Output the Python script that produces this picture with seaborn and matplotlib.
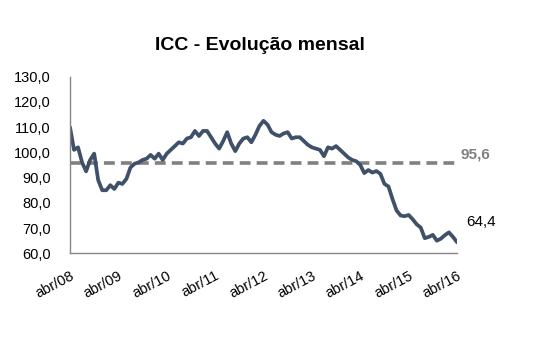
import matplotlib
matplotlib.use("Agg")
import matplotlib.pyplot as plt
import seaborn as sns
import pandas as pd
import numpy as np

# Monthly consumer confidence index, abr/2008 .. abr/2016
icc_values = [
    110.0, 101.0, 102.0, 96.0, 92.5, 97.0, 99.5, 89.0, 85.0, 85.0, 87.0, 85.5,
    88.0, 87.5, 89.5, 94.0, 95.5, 96.0, 97.0, 97.5, 99.0, 97.5, 99.5, 97.0,
    99.5, 101.0, 102.5, 104.0, 103.5, 105.5, 106.0, 108.5, 106.5, 108.5, 108.5, 106.0,
    103.5, 101.5, 104.5, 108.0, 103.5, 100.5, 103.5, 105.5, 106.0, 104.0, 107.0, 110.5,
    112.5, 111.0, 108.0, 107.0, 106.5, 107.5, 108.0, 105.5, 106.0, 106.0, 104.5, 103.0,
    102.0, 101.5, 101.0, 98.5, 102.0, 101.5, 102.5, 101.0, 99.5, 98.0, 97.0, 96.5,
    95.0, 91.8, 93.0, 92.0, 92.6, 91.5, 87.5, 86.5, 81.5, 77.0, 75.0, 74.7,
    75.2, 73.5, 71.5, 70.2, 66.0, 66.5, 67.3, 65.0, 65.8, 67.2, 68.3, 66.5,
    64.4,
]
historical_mean = 95.6
tick_labels = ["abr/08", "abr/09", "abr/10", "abr/11", "abr/12",
               "abr/13", "abr/14", "abr/15", "abr/16"]
y_ticks = [60, 70, 80, 90, 100, 110, 120, 130]

df = pd.DataFrame({"mes": np.arange(len(icc_values)), "icc": icc_values})

sns.set_theme(style="white")
plt.rcParams["font.family"] = ["Liberation Sans", "DejaVu Sans"]

fig = plt.figure(figsize=(5.4, 3.47), dpi=100)
ax = fig.add_axes([0.1296, 0.270, 0.7167, 0.509])

line_color = "#3F5069"
mean_color = "#808080"

ax.axhline(historical_mean, color=mean_color, lw=2.6, dashes=(3.0, 1.7),
           solid_capstyle="butt", zorder=1)
sns.lineplot(data=df, x="mes", y="icc", ax=ax, color=line_color, lw=2.7,
             zorder=2)

n = len(icc_values) - 1
ax.set_xlim(0, n)
ax.set_ylim(60, 130)
ax.set_xticks(np.arange(0, n + 1, 12))
ax.set_xticklabels(tick_labels, rotation=28, ha="right", va="top",
                   rotation_mode="anchor", fontsize=10.5, color="#000000")
ax.set_yticks(y_ticks)
ax.set_yticklabels([f"{v:.1f}".replace(".", ",") for v in y_ticks],
                   fontsize=10.5, color="#000000")
ax.tick_params(axis="y", length=0, pad=14)
ax.tick_params(axis="x", length=0, pad=11)
ax.set_xlabel("")
ax.set_ylabel("")

for side in ("top", "right"):
    ax.spines[side].set_visible(False)
for side in ("left", "bottom"):
    ax.spines[side].set_color("#868686")
    ax.spines[side].set_linewidth(1.0)

ax.text(n + 0.8, historical_mean + 0.8, f"{historical_mean:.1f}".replace(".", ","),
        color=mean_color, fontsize=11, fontweight="bold", ha="left", va="bottom")
ax.text(n + 2.3, 72.5, f"{icc_values[-1]:.1f}".replace(".", ","),
        color="#000000", fontsize=11, ha="left", va="center")

fig.text(0.481, 0.87, "ICC - Evolução mensal", ha="center", va="center",
         fontsize=14, fontweight="bold", color="#000000")

fig.savefig("out.png", dpi=100, facecolor="white")
